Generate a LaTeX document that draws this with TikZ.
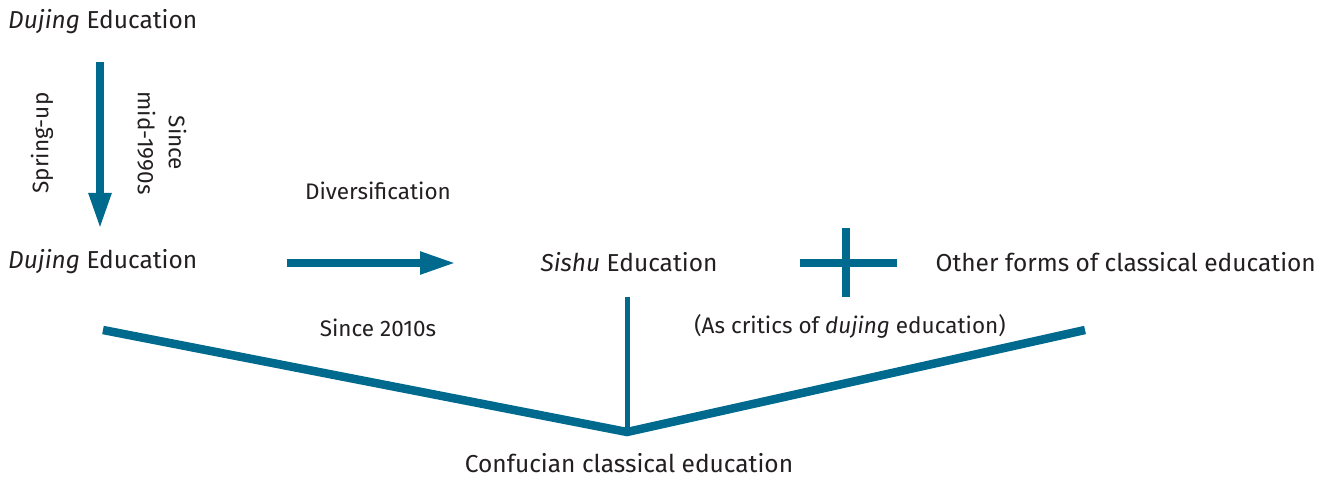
\documentclass[tikz,border=0pt]{standalone}
\usepackage{fontspec}
\setmainfont{Fira Sans}
\usetikzlibrary{arrows.meta}
\definecolor{flowblue}{HTML}{006A8E}
\definecolor{ink}{HTML}{231F20}
\begin{document}
\begin{tikzpicture}[x=1pt,y=-1pt,
  txt/.style={font=\fontsize{24.5}{31}\selectfont, text=ink, inner sep=0pt},
  lbl/.style={font=\fontsize{22.5}{31}\selectfont, text=ink, inner sep=0pt},
  big/.style={draw=flowblue, line width=8pt},
  arr/.style={big, -{Triangle[length=36pt,width=21pt]}},
  vline/.style={draw=flowblue, line width=8.5pt, line join=miter},
  thin/.style={draw=flowblue, line width=5pt}]
\useasboundingbox (0,0) rectangle (1326,478);
% texts
\node[txt, anchor=west] (d1) at (8,22) {\textit{Dujing} Education};
\node[txt, anchor=west] (d2) at (8,262) {\textit{Dujing} Education};
\node[txt] (sishu) at (629,262) {\textit{Sishu} Education};
\node[txt, anchor=east] (other) at (1316,262) {Other forms of classical education};
\node[lbl] (div) at (378,191) {Diversification};
\node[lbl] (s2010) at (378,328) {Since 2010s};
\node[lbl] (crit) at (850,326) {(As critics of \textit{dujing} education)};
\node[txt] (conf) at (629,463) {Confucian classical education};
\node[lbl, rotate=90] (spring) at (42,143) {Spring-up};
\node[lbl, rotate=-90, align=center] (since) at (162,143) {Since\\mid-1990s};
% coordinates
\coordinate (a1) at (100,62);
\coordinate (a2) at (100,229);
\coordinate (b1) at (287,263);
\coordinate (b2) at (456,263);
\coordinate (pl) at (800,263);
\coordinate (pr) at (897,263);
\coordinate (pt) at (846,228);
\coordinate (pb) at (846,297);
\coordinate (vl) at (103,330);
\coordinate (vm) at (627,432);
\coordinate (vr) at (1085,330);
\coordinate (st) at (627,297);
% connectors
\draw[arr] (a1) -- (a2);
\draw[arr] (b1) -- (b2);
\draw[big] (pl) -- (pr);
\draw[big] (pt) -- (pb);
\draw[thin] (st) -- (vm);
\draw[vline] (vl) -- (vm) -- (vr);
\end{tikzpicture}
\end{document}
